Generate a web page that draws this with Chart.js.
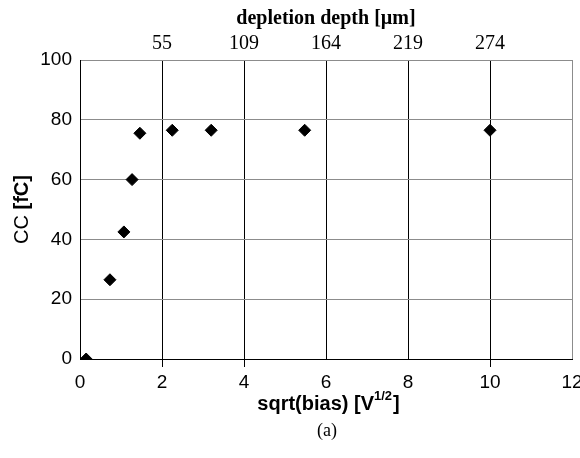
<!DOCTYPE html>
<html>
<head>
<meta charset="utf-8">
<script src="https://cdn.jsdelivr.net/npm/chart.js@4/dist/chart.umd.min.js"></script>
<style>
  html, body { margin: 0; padding: 0; background: #fff; }
  #wrap { width: 580px; height: 458px; }
</style>
</head>
<body>
<div id="wrap"><canvas id="ccChart" width="580" height="458"></canvas></div>
<script>
// sqrt(bias) [V^1/2] and collected charge [fC]
const sqrtBias = [0.15, 0.73, 1.07, 1.27, 1.46, 2.25, 3.2, 5.48, 10.0];
const charge = [0, 26.5, 42.5, 60, 75.5, 76.5, 76.5, 76.5, 76.5];

// bottom axis ticks and the matching depletion depth labels on top
const xTicks = [0, 2, 4, 6, 8, 10, 12];
const depthLabels = ['', '55', '109', '164', '219', '274', ''];
const yTicks = [0, 20, 40, 60, 80, 100];

const GRAY = '#8c8c8c';
const SANS = '"Liberation Sans", Arial, sans-serif';
const SERIF = '"Liberation Serif", "Times New Roman", serif';

// axis titles with mixed fonts / superscript, plus the (a) caption
const extraText = {
  id: 'extraText',
  afterDraw(chart) {
    const { ctx, chartArea: a } = chart;
    const cx = (a.left + a.right) / 2;
    ctx.save();
    ctx.fillStyle = '#000';
    ctx.textBaseline = 'middle';

    // y title: "CC [fC]"
    ctx.save();
    ctx.translate(22, (a.top + a.bottom) / 2);
    ctx.rotate(-Math.PI / 2);
    const p1 = 'CC ', p2 = '[fC]';
    ctx.font = '20px ' + SANS;
    const w1 = ctx.measureText(p1).width;
    ctx.font = 'bold 20px ' + SANS;
    const w2 = ctx.measureText(p2).width;
    let x = -(w1 + w2) / 2;
    ctx.textAlign = 'left';
    ctx.font = '20px ' + SANS;
    ctx.fillText(p1, x, 0);
    ctx.font = 'bold 20px ' + SANS;
    ctx.fillText(p2, x + w1, 0);
    ctx.restore();

    // x title: "sqrt(bias) [V^1/2]"
    const t1 = 'sqrt(bias) [V', sup = '1/2', t2 = ']';
    const ty = a.bottom + 45;
    ctx.font = 'bold 20px ' + SANS;
    const a1 = ctx.measureText(t1).width;
    const a3 = ctx.measureText(t2).width;
    ctx.font = 'bold 13px ' + SANS;
    const a2 = ctx.measureText(sup).width;
    x = cx + 2 - (a1 + a2 + a3) / 2;
    ctx.textAlign = 'left';
    ctx.font = 'bold 20px ' + SANS;
    ctx.fillText(t1, x, ty);
    ctx.font = 'bold 13px ' + SANS;
    ctx.fillText(sup, x + a1, ty - 8);
    ctx.font = 'bold 20px ' + SANS;
    ctx.fillText(t2, x + a1 + a2 + 1, ty);

    // caption
    ctx.textAlign = 'center';
    ctx.font = '18px ' + SERIF;
    ctx.fillText('(a)', cx + 1, a.bottom + 72);
    ctx.restore();
  }
};

new Chart(document.getElementById('ccChart'), {
  type: 'scatter',
  data: {
    datasets: [{
      label: 'CC',
      data: sqrtBias.map((v, i) => ({ x: v, y: charge[i] })),
      pointStyle: 'rectRot',
      pointRadius: 6,
      pointHoverRadius: 6,
      backgroundColor: '#000',
      borderColor: '#000',
      borderWidth: 1
    }]
  },
  options: {
    responsive: false,
    animation: false,
    devicePixelRatio: 1,
    layout: { padding: { left: 0, right: 8, top: 0, bottom: 0 } },
    plugins: {
      legend: { display: false },
      tooltip: { enabled: false }
    },
    scales: {
      x: {
        type: 'linear',
        position: 'bottom',
        min: xTicks[0],
        max: xTicks[xTicks.length - 1],
        afterBuildTicks: s => { s.ticks = xTicks.map(v => ({ value: v })); },
        ticks: { color: '#000', font: { family: SANS, size: 19 }, padding: 4, maxRotation: 0 },
        grid: {
          color: c => (c.tick && c.tick.value === 12 ? GRAY : '#000'),
          tickColor: c => (c.tick && [2, 4, 10].includes(c.tick.value) ? '#000' : 'rgba(0,0,0,0)'),
          tickLength: 8,
          lineWidth: 1
        },
        border: { color: '#000', width: 1 },
        afterFit: s => { s.height = 99; s.paddingLeft = 0; s.paddingRight = 0; }
      },
      x2: {
        type: 'linear',
        position: 'top',
        min: xTicks[0],
        max: xTicks[xTicks.length - 1],
        afterBuildTicks: s => { s.ticks = xTicks.map(v => ({ value: v })); },
        ticks: {
          color: '#000',
          font: { family: SERIF, size: 20 },
          padding: 4,
          maxRotation: 0,
          callback: v => depthLabels[xTicks.indexOf(v)] || ''
        },
        grid: { display: false, drawTicks: false },
        border: { color: GRAY, width: 1 },
        title: {
          display: true,
          text: 'depletion depth [µm]',
          color: '#000',
          font: { family: SERIF, size: 20, weight: 'bold' },
          padding: { top: 7, bottom: 0 }
        },
        afterFit: s => { s.height = 60; s.paddingLeft = 0; s.paddingRight = 0; }
      },
      y: {
        min: yTicks[0],
        max: yTicks[yTicks.length - 1],
        afterBuildTicks: s => { s.ticks = yTicks.map(v => ({ value: v })); },
        ticks: { color: '#000', font: { family: SANS, size: 19 }, padding: 8 },
        grid: {
          color: c => (c.tick && c.tick.value === 0 ? 'rgba(0,0,0,0)' : GRAY),
          drawTicks: false,
          lineWidth: 1
        },
        border: { color: '#000', width: 1 },
        afterFit: s => { s.width = 80; }
      }
    }
  },
  plugins: [extraText]
});
</script>
</body>
</html>
